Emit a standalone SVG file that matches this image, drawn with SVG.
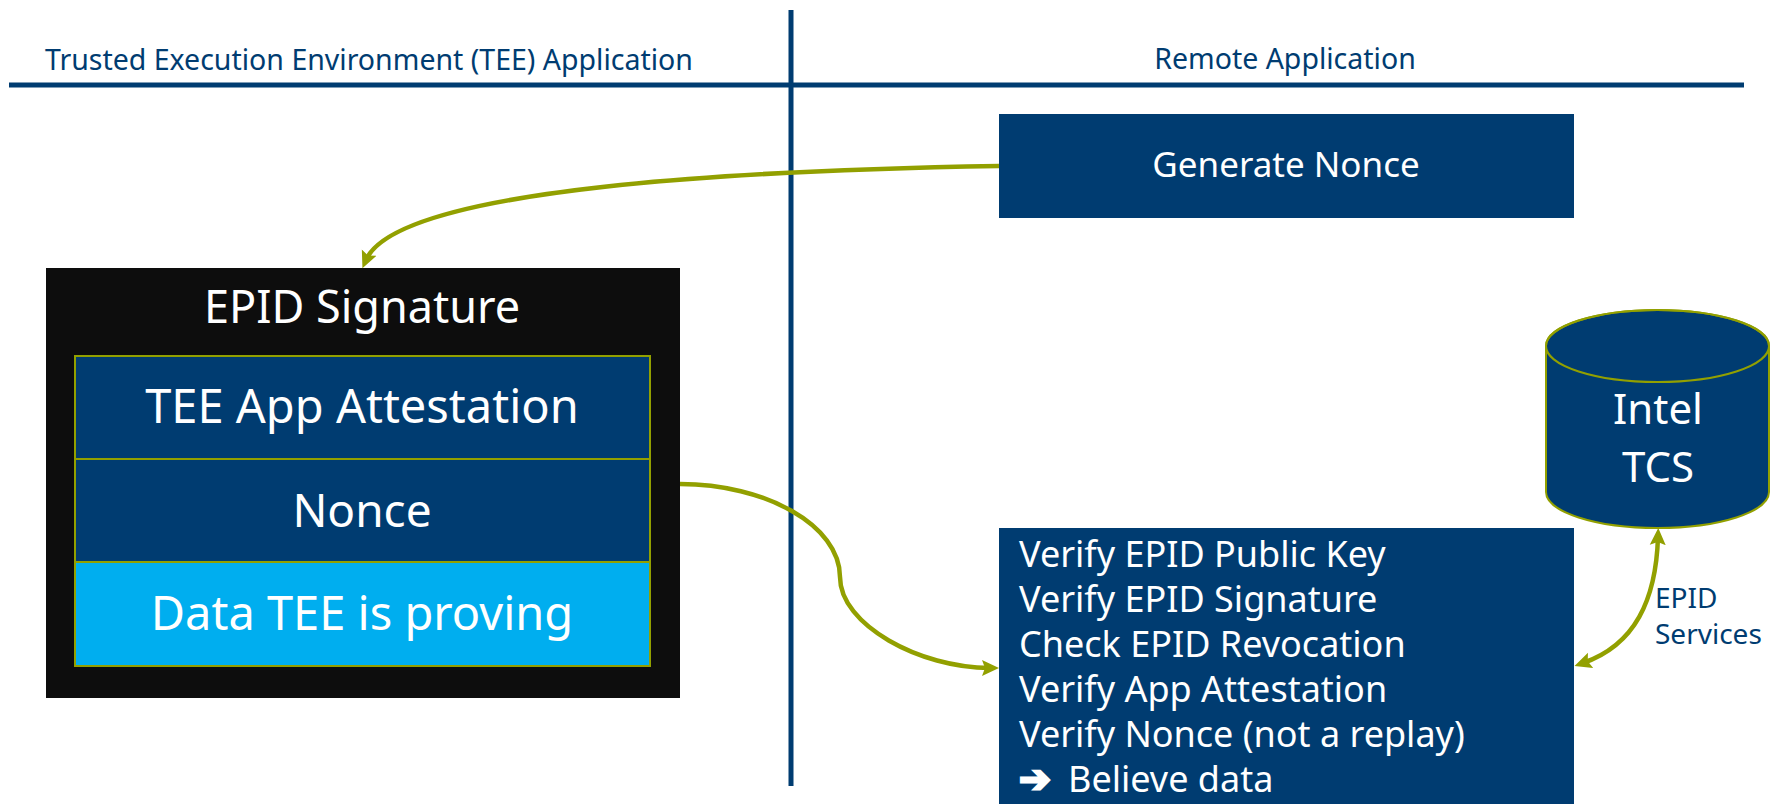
<svg xmlns="http://www.w3.org/2000/svg" width="1770" height="804" viewBox="0 0 1770 804">
  <style>
    .hdr { font-family: "Noto Sans", "DejaVu Sans", sans-serif; font-size: 28.5px; fill: #003c71; }
    .lbl { font-family: "Noto Sans", "DejaVu Sans", sans-serif; fill: #ffffff; text-anchor: middle; }
    .vt { font-family: "Noto Sans", "DejaVu Sans", sans-serif; font-size: 36px; fill: #ffffff; }
    .svc { font-family: "Noto Sans", "DejaVu Sans", sans-serif; font-size: 28px; fill: #003c71; }
    .navy { fill: #003c71; }
    .row { stroke: #92a000; stroke-width: 2; }
    .conn { fill: none; stroke: #92a000; stroke-width: 4.5; }
    .divider { stroke: #003c71; stroke-width: 5; }
  </style>
  <defs>
    <marker id="ah" markerUnits="userSpaceOnUse" markerWidth="20" markerHeight="20" viewBox="0 0 20 20" refX="8" refY="9" orient="auto-start-reverse">
      <path d="M0,1 L17,9 L0,17 L3,9 z" fill="#92a000"/>
    </marker>
  </defs>

  <rect width="1770" height="804" fill="#ffffff"/>

  <g id="lanes">
    <line class="divider" x1="9" y1="85" x2="1744" y2="85"/>
    <line class="divider" x1="791" y1="10" x2="791" y2="786"/>
    <text class="hdr" x="45" y="70">Trusted Execution Environment (TEE) Application</text>
    <text class="hdr" x="1285" y="69" text-anchor="middle">Remote Application</text>
  </g>

  <g id="generate-nonce">
    <rect class="navy" x="999" y="114" width="575" height="104"/>
    <text class="lbl" x="1286" y="177" font-size="35">Generate Nonce</text>
  </g>

  <g id="epid-signature">
    <rect x="46" y="268" width="634" height="430" fill="#0d0d0d"/>
    <text class="lbl" x="362" y="323" font-size="45">EPID Signature</text>
  </g>

  <g id="tee-app-attestation">
    <rect class="navy row" x="75" y="356" width="575" height="103"/>
    <text class="lbl" x="362" y="423" font-size="47">TEE App Attestation</text>
  </g>

  <g id="nonce">
    <rect class="navy row" x="75" y="459" width="575" height="103"/>
    <text class="lbl" x="362" y="527" font-size="46">Nonce</text>
  </g>

  <g id="data-tee">
    <rect class="row" x="75" y="562" width="575" height="104" fill="#00aeef"/>
    <text class="lbl" x="362" y="630" font-size="47">Data TEE is proving</text>
  </g>

  <g id="verify">
    <rect class="navy" x="999" y="528" width="575" height="280"/>
    <text class="vt" x="1019" y="567">Verify EPID Public Key</text>
    <text class="vt" x="1019" y="612">Verify EPID Signature</text>
    <text class="vt" x="1019" y="657">Check EPID Revocation</text>
    <text class="vt" x="1019" y="702">Verify App Attestation</text>
    <text class="vt" x="1019" y="747">Verify Nonce (not a replay)</text>
    <text class="vt" x="1019" y="792"><tspan font-family="DejaVu Sans, sans-serif" font-weight="bold" font-size="38" stroke="#ffffff" stroke-width="2.5">➔</tspan><tspan x="1068">Believe data</tspan></text>
  </g>

  <g id="intel-tcs">
    <path class="navy" d="M1546,346 L1546,492 A111.5,36 0 0 0 1769,492 L1769,346 A111.5,36 0 0 0 1546,346 z" stroke="#92a000" stroke-width="2"/>
    <ellipse cx="1657.5" cy="346" rx="111.5" ry="36" fill="none" stroke="#92a000" stroke-width="2"/>
    <text class="lbl" x="1658" y="424" font-size="42">Intel</text>
    <text class="lbl" x="1658" y="482" font-size="42">TCS</text>
  </g>

  <g id="connectors">
    <path class="conn" d="M999,166 C760,170 398,186 366,260" marker-end="url(#ah)"/>
    <path class="conn" d="M680,484 C765,484 840,525 840,577 C840,625 920,668 990,668" marker-end="url(#ah)"/>
    <path class="conn" d="M1658,537 C1656,600 1635,645 1583,663" marker-start="url(#ah)" marker-end="url(#ah)"/>
    <text class="svc" x="1655" y="608">EPID</text>
    <text class="svc" x="1655" y="644">Services</text>
  </g>
</svg>
